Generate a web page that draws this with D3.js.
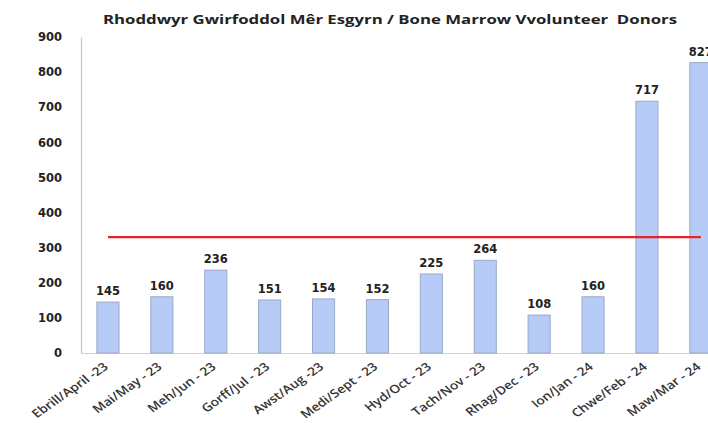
<!DOCTYPE html>
<html><head><meta charset="utf-8">
<script src="https://cdn.jsdelivr.net/npm/d3@7"></script>
<style>body{margin:0;background:#fff}svg{display:block}</style>
</head><body>
<svg id="c" width="708" height="423"></svg>
<script>
const categories = ["Ebrill/April -23","Mai/May - 23","Meh/Jun - 23","Gorff/Jul - 23","Awst/Aug -23","Medi/Sept - 23","Hyd/Oct - 23","Tach/Nov - 23","Rhag/Dec - 23","Ion/Jan - 24","Chwe/Feb - 24","Maw/Mar - 24"];
const donors = [145,160,236,151,154,152,225,264,108,160,717,827];
const target = [330,330,330,330,330,330,330,330,330,330,330,330];
const yTicks = [0,100,200,300,400,500,600,700,800,900];
const title = "Rhoddwyr Gwirfoddol Mêr Esgyrn / Bone Marrow Vvolunteer  Donors";

const svg = d3.select("#c");
const plotLeft = 81, plotBottom = 353, plotTop = 37;
const x = d3.scaleBand().domain(categories).range([plotLeft, plotLeft + 12*53.9]).paddingInner(0.59).paddingOuter(0.295);
const y = d3.scaleLinear().domain([0,900]).range([plotBottom, plotTop]);
const font = "'Open Sans', sans-serif";

svg.append("text").attr("x", 103).attr("y", 24)
  .style("white-space","pre")
  .attr("textLength", 574).attr("lengthAdjust","spacingAndGlyphs")
  .attr("font-family", font).attr("font-weight","bold").attr("font-size",12.5).attr("fill","#222").text(title);

// y axis
const ya = svg.append("g").attr("transform",`translate(${plotLeft},0)`)
  .call(d3.axisLeft(y).tickValues(yTicks).tickSize(0).tickPadding(19));
ya.select(".domain").attr("stroke","#c8c8c8").attr("stroke-width",1.2);
ya.selectAll("text").attr("font-family","'DejaVu Sans', sans-serif").attr("font-weight","bold").attr("font-size",11.5).attr("fill","#222");

// x axis
const xa = svg.append("g").attr("transform",`translate(0,${plotBottom})`)
  .call(d3.axisBottom(x).tickSize(0).tickPadding(6));
xa.select(".domain").attr("stroke","#d0d0d0").attr("stroke-width",1.2);
xa.selectAll("text").attr("font-family", font).attr("font-weight",600).attr("font-size",11.5).attr("fill","#333")
  .attr("text-anchor","end").attr("x",-9).attr("y",8).attr("dy","0.35em")
  .attr("transform","scale(1.2,1) rotate(-40)");

// bars
svg.selectAll("rect.bar").data(donors).join("rect").attr("class","bar")
  .attr("x",(d,i)=>x(categories[i])).attr("width",x.bandwidth())
  .attr("y",d=>y(d)).attr("height",d=>plotBottom - y(d))
  .attr("fill","#b7cbf7").attr("stroke","#9aa9c6").attr("stroke-width",1);

// labels
svg.selectAll("text.lbl").data(donors).join("text").attr("class","lbl")
  .attr("x",(d,i)=>x(categories[i])+x.bandwidth()/2).attr("y",d=>y(d)-7)
  .attr("text-anchor","middle").attr("font-family","'DejaVu Sans', sans-serif").attr("font-weight","bold")
  .attr("font-size",11.5).attr("fill","#222").text(d=>d);

// target line
const line = d3.line().x((d,i)=>x(categories[i])+x.bandwidth()/2).y(d=>y(d));
svg.append("path").datum(target).attr("d",line).attr("fill","none").attr("stroke","#e8202a").attr("stroke-width",2.2);
</script>
</body></html>
